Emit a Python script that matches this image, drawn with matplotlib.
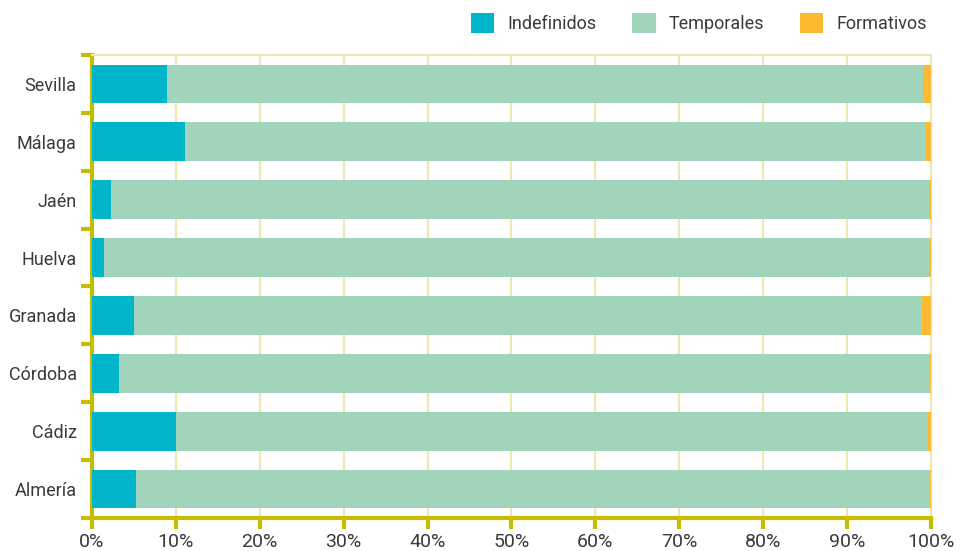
import matplotlib.pyplot as plt
import numpy as np

plt.rcParams['font.family'] = ['Roboto', 'DejaVu Sans']

# datos (%), de abajo hacia arriba
provincias = ['Almería', 'Cádiz', 'Córdoba', 'Granada', 'Huelva', 'Jaén', 'Málaga', 'Sevilla']
indefinidos = np.array([5.2, 10.0, 3.2, 5.0, 1.4, 2.3, 11.1, 8.9])
formativos = np.array([0.1, 0.35, 0.1, 1.1, 0.3, 0.3, 0.6, 1.0])
temporales = 100 - indefinidos - formativos

c_ind = '#00b4c9'
c_tem = '#a0d5bb'
c_for = '#fcba31'
c_eje = '#c6bd00'
c_grid = '#eee7b3'
c_txt = '#3a3a3a'

fig = plt.figure(figsize=(9.64, 5.51), dpi=100)
ax = fig.add_axes([0.0954, 0.0599, 0.8704, 0.8403])

y = np.arange(len(provincias))
h = 0.67
ax.barh(y, indefinidos, height=h, color=c_ind, label='Indefinidos', zorder=3)
ax.barh(y, temporales, height=h, left=indefinidos, color=c_tem, label='Temporales', zorder=3)
ax.barh(y, formativos, height=h, left=indefinidos + temporales, color=c_for, label='Formativos', zorder=3)

ax.set_xlim(0, 100)
ax.set_ylim(-0.5, len(provincias) - 0.5)

ax.set_xticks(np.arange(0, 101, 10))
ax.set_xticklabels([f'{v}%' for v in range(0, 101, 10)])
ax.xaxis.grid(True, color=c_grid, linewidth=1.5, zorder=0)
ax.set_axisbelow(True)

ax.set_yticks(y)
ax.set_yticklabels(provincias)
ax.set_yticks(np.arange(-0.5, len(provincias)), minor=True)
ax.tick_params(axis='y', which='major', length=0, pad=11, labelsize=13, labelcolor=c_txt)
ax.tick_params(axis='y', which='minor', length=8, width=3, color=c_eje, direction='out')
ax.tick_params(axis='x', which='major', length=8, width=3, color=c_eje, pad=3, labelsize=14, labelcolor=c_txt)

for s in ['left', 'bottom']:
    ax.spines[s].set_color(c_eje)
    ax.spines[s].set_linewidth(3)
for s in ['top', 'right']:
    ax.spines[s].set_color(c_grid)
    ax.spines[s].set_linewidth(1.5)

fig.legend(loc='upper right', bbox_to_anchor=(0.978, 1.005), ncol=3, frameon=False,
           fontsize=13, handlelength=1.3, handleheight=1.3, handletextpad=0.7,
           columnspacing=2.0, labelcolor=c_txt)

fig.savefig('out.png', dpi=100)
